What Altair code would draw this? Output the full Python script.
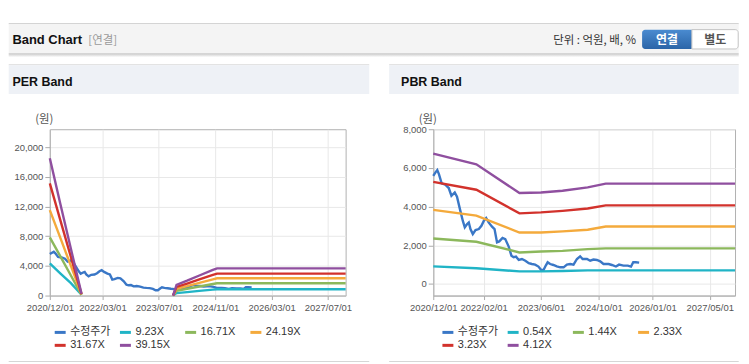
import altair as alt
import pandas as pd

# ---------------- data ----------------
price_name = "수정주가"
price_dates = ["2020-12-01","2020-12-20","2021-01-04","2021-01-18","2021-02-10","2021-03-13","2021-04-11",
               "2021-05-04","2021-06-01","2021-06-20","2021-07-18","2021-08-08","2021-08-25","2021-09-14",
               "2021-09-28","2021-10-12","2021-11-01","2021-11-24","2021-12-22","2022-01-13","2022-02-03",
               "2022-02-22","2022-03-15","2022-04-13","2022-05-04","2022-05-25","2022-06-13","2022-07-11",
               "2022-08-03","2022-09-01","2022-09-24","2022-10-13","2022-11-02","2022-11-25","2022-12-22",
               "2023-01-20","2023-02-18","2023-03-16","2023-04-13","2023-05-11","2023-06-03","2023-06-23",
               "2023-07-12","2023-07-28","2023-08-18","2023-09-15","2023-10-13","2023-11-12","2023-12-10",
               "2024-01-07","2024-02-04","2024-03-03","2024-04-01","2024-04-28","2024-05-19","2024-06-25",
               "2024-07-22","2024-08-19","2024-09-17","2024-10-15","2024-11-12","2024-12-25","2025-01-22",
               "2025-02-25","2025-03-24","2025-04-30","2025-06-06","2025-07-03","2025-07-22","2025-08-12",
               "2025-09-10"]
price_values = [5590,5770,5890,5680,5200,5130,4960,4560,4730,4510,3790,3270,2930,3100,3180,2840,2580,2790,
                2840,3010,3270,3410,3180,2960,2840,2150,2200,2380,2320,1930,1460,1380,1410,1240,1290,1200,
                1070,1030,1000,900,720,720,950,1120,1030,980,910,860,860,1000,1030,1000,1290,1430,1290,1290,
                1200,1260,1240,1170,1030,1030,980,900,1000,950,950,900,1120,1120,1100]

# PER band (two visible segments)
per_names = ["9.23X", "16.71X", "24.19X", "31.67X", "39.15X"]
per_seg1_dates = ["2020-12-01", "2021-03-01", "2021-06-01", "2021-09-01"]
per_seg1_values = {
    "9.23X":  [4330, 3000, 1680, 100],
    "16.71X": [7830, 5300, 2700, 100],
    "24.19X": [11500, 7800, 4000, 150],
    "31.67X": [15100, 10200, 5200, 200],
    "39.15X": [18480, 12400, 6300, 250],
}
per_seg2_dates = ["2023-11-01", "2023-12-01", "2024-03-01", "2024-06-15", "2024-10-10", "2024-11-15", "2027-12-01"]
per_seg2_values = {
    "9.23X":  [0, 330, 460, 630, 800, 850, 850],
    "16.71X": [0, 650, 900, 1220, 1550, 1650, 1650],
    "24.19X": [0, 920, 1270, 1720, 2190, 2330, 2330],
    "31.67X": [0, 1170, 1620, 2180, 2790, 2960, 2960],
    "39.15X": [0, 1450, 2000, 2700, 3450, 3660, 3660],
}

# PBR band
pbr_names = ["0.54X", "1.44X", "2.33X", "3.23X", "4.12X"]
pbr_dates = ["2020-12-01", "2021-12-01", "2022-12-01", "2023-06-01", "2023-12-01", "2024-07-01", "2024-12-01", "2027-12-01"]
pbr_values = {
    "0.54X": [910, 810, 650, 650, 670, 700, 700, 700],
    "1.44X": [2350, 2180, 1630, 1680, 1710, 1800, 1840, 1840],
    "2.33X": [3830, 3530, 2660, 2660, 2720, 2800, 2970, 2970],
    "3.23X": [5280, 4870, 3650, 3700, 3780, 3900, 4060, 4060],
    "4.12X": [6740, 6190, 4700, 4730, 4820, 4990, 5190, 5190],
}

series_colors = ["#3a77c6", "#20b4c6", "#8cb85c", "#f4aa3c", "#d2322c", "#8f4f9f"]

per_ticks_x = [(2020, 12), (2022, 3), (2023, 7), (2024, 11), (2026, 3), (2027, 7)]
pbr_ticks_x = [(2020, 12), (2022, 2), (2023, 6), (2024, 10), (2026, 1), (2027, 5)]
per_ticks_y = [0, 4000, 8000, 12000, 16000, 20000]
pbr_ticks_y = [0, 2000, 4000, 6000, 8000]

# ---------------- tables ----------------
def price_rows():
    return [{"date": d, "value": v, "series": price_name, "seg": "p"} for d, v in zip(price_dates, price_values)]

per_rows = price_rows()
for n in per_names:
    per_rows += [{"date": d, "value": v, "series": n, "seg": "a"} for d, v in zip(per_seg1_dates, per_seg1_values[n])]
    per_rows += [{"date": d, "value": v, "series": n, "seg": "b"} for d, v in zip(per_seg2_dates, per_seg2_values[n])]
per_df = pd.DataFrame(per_rows)

pbr_rows = price_rows()
for n in pbr_names:
    pbr_rows += [{"date": d, "value": v, "series": n, "seg": "a"} for d, v in zip(pbr_dates, pbr_values[n])]
pbr_df = pd.DataFrame(pbr_rows)

one = pd.DataFrame({"k": [0]})

FONT = "Liberation Sans, Noto Sans CJK KR, sans-serif"
KFONT = "Noto Sans CJK KR, Liberation Sans, sans-serif"

# plot origins in page coordinates
OLX, OLY = 49.3, 128.3
ORX, ORY = 434.3, 128.3
LW, RW, H = 297, 303, 167
RIGHT = 741  # right-most page x that fits the page without scaling


def rect(ox, oy, x1, x2, y1, y2, **kw):
    return alt.Chart(one).mark_rect(**kw).encode(
        x=alt.value(x1 - ox), x2=alt.value(x2 - ox), y=alt.value(y1 - oy), y2=alt.value(y2 - oy))


def text(ox, oy, x, y, s, **kw):
    return alt.Chart(one).mark_text(text=s, baseline="alphabetic", **kw).encode(
        x=alt.value(x - ox), y=alt.value(y - oy))


def band_chart(df, names, ticks_x, ticks_y, ydomain, width, legend_x):
    domain = [price_name] + names
    return alt.Chart(df).mark_line(strokeWidth=2.4).encode(
        x=alt.X("date:T",
                scale=alt.Scale(domain=[alt.DateTime(year=2020, month=12, date=1),
                                        alt.DateTime(year=2027, month=12, date=1)]),
                axis=alt.Axis(values=[alt.DateTime(year=y, month=m, date=1) for y, m in ticks_x],
                              format="%Y/%m/%d", title=None, labelOverlap=False, labelFlush=False,
                              labelPadding=3, tickSize=4)),
        y=alt.Y("value:Q",
                scale=alt.Scale(domain=ydomain, nice=False, zero=False),
                axis=alt.Axis(values=ticks_y, format=",.0f", title="(원)", titleAngle=0,
                              titleX=-6, titleY=-10, titleAlign="center", titleBaseline="middle",
                              titleFont=KFONT, titleFontSize=11.5, titleFontWeight="normal",
                              titleColor="#555", tickSize=5, labelPadding=2)),
        color=alt.Color("series:N",
                        scale=alt.Scale(domain=domain, range=series_colors),
                        sort=domain,
                        legend=alt.Legend(orient="none", legendX=legend_x, legendY=197,
                                          direction="horizontal", columns=4, title=None,
                                          symbolType="stroke", symbolStrokeWidth=3, symbolSize=121,
                                          labelFont=FONT, labelFontSize=11, labelColor="#333",
                                          gridAlign="all", columnPadding=2.5, rowPadding=-2,
                                          labelOffset=3, padding=0)),
        detail="seg:N",
    ).properties(width=width, height=H)


# ---------------- left panel (with global header) ----------------
btn_grad = alt.LinearGradient(gradient="linear", x1=0, x2=0, y1=0, y2=1,
                              stops=[alt.GradientStop(color="#4a8bd0", offset=0),
                                     alt.GradientStop(color="#2b65a8", offset=1)])
shadow_grad = alt.LinearGradient(gradient="linear", x1=0, x2=0, y1=0, y2=1,
                                 stops=[alt.GradientStop(color="#c4c4c4", offset=0),
                                        alt.GradientStop(color="#ffffff", offset=1)])

left_decor = [
    rect(OLX, OLY, 8, RIGHT, 22, 23, fill="#c6c6c6"),
    rect(OLX, OLY, 8, RIGHT, 23, 52, fill="#f4f4f4"),
    rect(OLX, OLY, 8, RIGHT, 52, 56, fill=shadow_grad),
    text(OLX, OLY, 11.7, 42.5, "Band Chart", font=FONT, fontSize=13, fontWeight="bold", color="#111", align="left"),
    text(OLX, OLY, 88, 42.5, "[연결]", font=KFONT, fontSize=11.5, color="#9a9a9a", align="left"),
    text(OLX, OLY, 638, 42.5, "단위 : 억원, 배, %", font=KFONT, fontSize=11.5, color="#333", align="right"),
    rect(OLX, OLY, 644, 694, 28.3, 47.7, fill=btn_grad, cornerRadiusTopLeft=3, cornerRadiusBottomLeft=3),
    rect(OLX, OLY, 694, 740.5, 28.3, 47.7, fill="#ffffff", stroke="#c4c4c4", strokeWidth=1,
         cornerRadiusTopRight=3, cornerRadiusBottomRight=3),
    text(OLX, OLY, 669, 42.3, "연결", font=KFONT, fontSize=12, fontWeight="bold", color="#ffffff", align="center"),
    text(OLX, OLY, 717.5, 42.3, "별도", font=KFONT, fontSize=12, fontWeight="bold", color="#555", align="center"),
    rect(OLX, OLY, 8, 370, 63, 64, fill="#dadada"),
    rect(OLX, OLY, 8, 370, 64, 93, fill="#eef1f6"),
    text(OLX, OLY, 11.7, 84.5, "PER Band", font=FONT, fontSize=12.5, fontWeight="bold", color="#111", align="left"),
    rect(OLX, OLY, 8, 370, 361, 362, fill="#d6d6d6"),
]

right_decor = [
    rect(ORX, ORY, 390, RIGHT, 63, 64, fill="#dadada"),
    rect(ORX, ORY, 390, RIGHT, 64, 93, fill="#eef1f6"),
    text(ORX, ORY, 402, 84.5, "PBR Band", font=FONT, fontSize=12.5, fontWeight="bold", color="#111", align="left"),
    rect(ORX, ORY, 390, RIGHT, 361, 362, fill="#d6d6d6"),
]

left = alt.layer(*left_decor,
                 band_chart(per_df, per_names, per_ticks_x, per_ticks_y, [0, 22400], LW, 3.4)
                 ).properties(width=LW, height=H)
right = alt.layer(*right_decor,
                  band_chart(pbr_df, pbr_names, pbr_ticks_x, pbr_ticks_y, [-600, 8000], RW, 7.7)
                  ).properties(width=RW, height=H)

chart = alt.hconcat(left, right, spacing=ORX - (OLX + LW), bounds="flush").resolve_scale(
    color="independent", x="independent", y="independent"
).properties(
    padding={"left": 0, "top": 14, "right": 0, "bottom": 0},
    background="#ffffff",
).configure_view(
    stroke="#b0b0b0", strokeWidth=1, fill="#ffffff"
).configure_axis(
    labelFont=FONT, labelFontSize=9.5, labelColor="#555", tickColor="#aaa",
    domainColor="#b0b0b0", gridColor="#e8e8e8", grid=True,
)

chart.save("out.html", embed_options={"renderer": "svg", "actions": False})
